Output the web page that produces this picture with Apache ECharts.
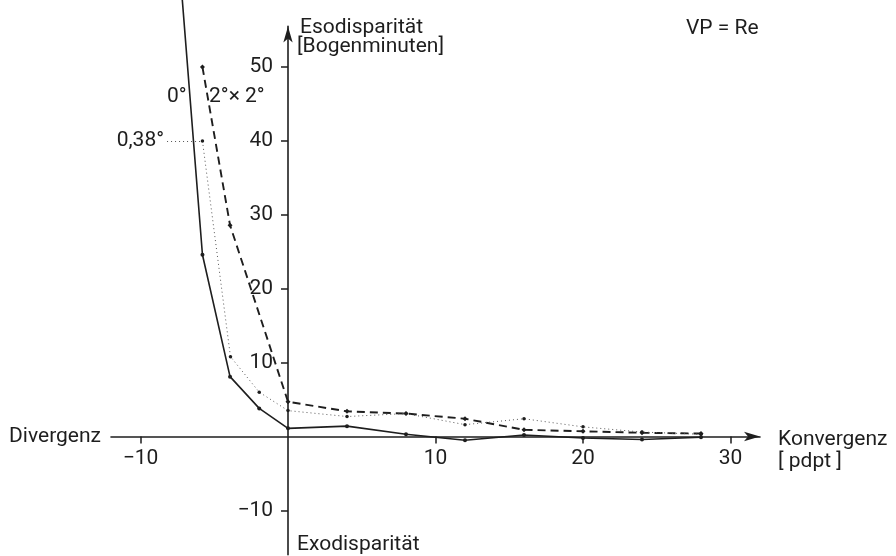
<!DOCTYPE html>
<html>
<head>
<meta charset="utf-8">
<script src="https://cdn.jsdelivr.net/npm/echarts@6/dist/echarts.min.js"></script>
<style>html,body{margin:0;padding:0;background:#fff}#c{width:896px;height:556px}</style>
</head>
<body>
<div id="c"></div>
<script>
// Data (x = Konvergenz [pdpt], y = Esodisparität [Bogenminuten])
var xTicks = [-10, 10, 20, 30];
var yTicks = [-10, 10, 20, 30, 40, 50];
var solid0 = [[-7.4, 65], [-5.8, 24.6], [-3.93, 8.1], [-1.95, 3.8], [0, 1.1], [4, 1.4], [8, 0.3], [12, -0.5], [16, 0.2], [20, -0.2], [24, -0.4], [28, -0.1]];
var dashed2x2 = [[-5.8, 50], [-3.93, 28.6], [0, 4.7], [4, 3.4], [8, 3.1], [12, 2.4], [16, 0.9], [20, 0.7], [24, 0.5], [28, 0.4]];
var dotted038 = [[-5.8, 40], [-3.9, 10.8], [-1.95, 6.0], [0, 3.5], [4, 2.7], [8, 3.1], [12, 1.6], [16, 2.4], [20, 1.3], [24, 0.6], [28, 0.3]];

var FONT = 'Roboto';
var FS = 21;
var INK = '#1e1e1e';
var X_MIN = -12, X_MAX = 32, Y_MIN = -16, Y_MAX = 55.5;
var G = { left: 111, right: 136, top: 26.4, bottom: 1.3 };
var gw = 896 - G.left - G.right, gh = 556 - G.top - G.bottom;
// shift axes so they cross at the origin
var xOffset = -(gh * (0 - Y_MIN) / (Y_MAX - Y_MIN));
var yOffset = -(gw * (0 - X_MIN) / (X_MAX - X_MIN));

var chart = echarts.init(document.getElementById('c'));
var txt = function (t, x, y, align) {
  return { type: 'text', x: x, y: y, style: { text: t, fill: INK, font: FS + 'px ' + FONT, textAlign: align || 'left', textVerticalAlign: 'middle' } };
};
var fmt = function (v) { return v < 0 ? '\u2212' + Math.abs(v) : String(v); };
chart.setOption({
  animation: false,
  grid: { left: G.left, right: G.right, top: G.top, bottom: G.bottom, containLabel: false, outerBoundsMode: 'none' },
  xAxis: {
    type: 'value', min: X_MIN, max: X_MAX, position: 'bottom', offset: xOffset,
    splitLine: { show: false },
    axisLine: { onZero: false, symbol: ['none', 'arrow'], symbolSize: [7, 16], lineStyle: { color: INK, width: 1.6 } },
    axisTick: { customValues: xTicks, length: 7, lineStyle: { color: INK, width: 1.5 } },
    axisLabel: { customValues: xTicks, color: INK, fontFamily: FONT, fontSize: FS, margin: 12, formatter: fmt }
  },
  yAxis: {
    type: 'value', min: Y_MIN, max: Y_MAX, position: 'left', offset: yOffset,
    splitLine: { show: false },
    axisLine: { onZero: false, symbol: ['none', 'arrow'], symbolSize: [7, 16], lineStyle: { color: INK, width: 1.6 } },
    axisTick: { customValues: yTicks, length: 7, lineStyle: { color: INK, width: 1.5 } },
    axisLabel: { customValues: yTicks, color: INK, fontFamily: FONT, fontSize: FS, margin: 15, formatter: fmt }
  },
  series: [
    { name: '0°', type: 'line', data: solid0, clip: false, symbol: 'circle', symbolSize: 4,
      lineStyle: { color: INK, width: 1.6 }, itemStyle: { color: INK } },
    { name: '2°×2°', type: 'line', data: dashed2x2, clip: false, symbol: 'diamond', symbolSize: 5,
      lineStyle: { color: INK, width: 1.9, type: [8, 5] }, itemStyle: { color: INK } },
    { name: '0,38°', type: 'line', data: dotted038, clip: false, symbol: 'circle', symbolSize: 3.5,
      lineStyle: { color: '#555', width: 1, type: [1, 3] }, itemStyle: { color: INK },
      markLine: { silent: true, symbol: 'none', animation: false,
        lineStyle: { color: '#555', width: 1, type: [1, 3] },
        label: { show: true, position: 'start', formatter: '0,38°', color: INK, fontFamily: FONT, fontSize: FS, distance: 3 },
        data: [[{ coord: [-8.2, 40] }, { coord: [-5.8, 40] }]] } }
  ],
  graphic: [
    txt('0°', 167, 97),
    txt('2°× 2°', 209, 97),
    txt('Esodisparität', 300, 28),
    txt('[Bogenminuten]', 297, 47),
    txt('VP = Re', 686, 29),
    txt('Divergenz', 101, 437, 'right'),
    txt('Konvergenz', 778, 440),
    txt('[ pdpt ]', 778, 462),
    txt('Exodisparität', 297, 545)
  ]
});
</script>
</body>
</html>
